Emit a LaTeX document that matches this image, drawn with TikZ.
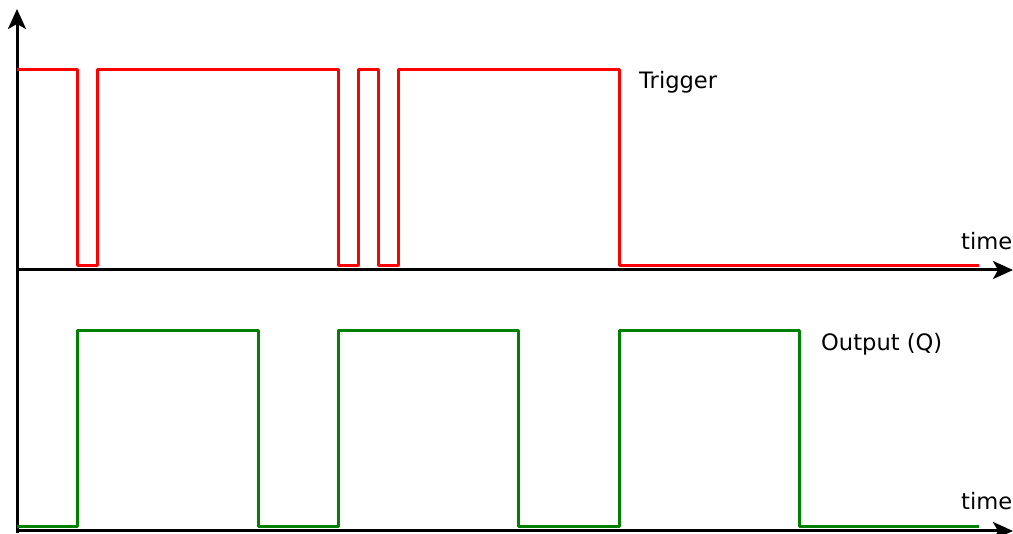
\documentclass[tikz,border=0pt]{standalone}
\usepackage{fontspec}
\setmainfont{DejaVu Sans}
\usetikzlibrary{arrows.meta}
\begin{document}
\begin{tikzpicture}[x=1pt,y=-1pt,
  axis/.style={line width=3pt,-{Stealth[length=20pt,width=18pt,inset=5pt]}},
  sig/.style={line width=3pt,line join=round},
  trig/.style={sig,draw={rgb,255:red,255;green,0;blue,0}},
  outq/.style={sig,draw={rgb,255:red,0;green,128;blue,0}},
  lbl/.style={inner sep=0pt,anchor=base west,font=\fontsize{22.6pt}{27pt}\selectfont}]
\useasboundingbox (0,0) rectangle (1013,534);
% axes
\coordinate (o) at (17,533);
\coordinate (ytip) at (17,9);
\coordinate (a1s) at (16,270);
\coordinate (a1e) at (1013,270);
\coordinate (a2s) at (16,531);
\coordinate (a2e) at (1013,531);
\draw[axis] (o) -- (ytip);
\draw[axis] (a1s) -- (a1e);
\draw[axis] (a2s) -- (a2e);
% trigger waveform
\draw[trig] (17,70) -- (77,70) -- (77,266) -- (97,266) -- (97,70) -- (338,70)
  -- (338,266) -- (358,266) -- (358,70) -- (378,70) -- (378,266) -- (398,266)
  -- (398,70) -- (619,70) -- (619,266) -- (979,266);
% output waveform
\draw[outq] (17,527) -- (77,527) -- (77,331) -- (258,331) -- (258,527) -- (338,527)
  -- (338,331) -- (518,331) -- (518,527) -- (619,527) -- (619,331) -- (799,331)
  -- (799,527) -- (979,527);
% labels
\node[lbl] (trg) at (639,89) {Trigger};
\node[lbl] (t1) at (961,250) {time};
\node[lbl] (oq) at (821,351) {Output (Q)};
\node[lbl] (t2) at (961,510) {time};
\end{tikzpicture}
\end{document}
